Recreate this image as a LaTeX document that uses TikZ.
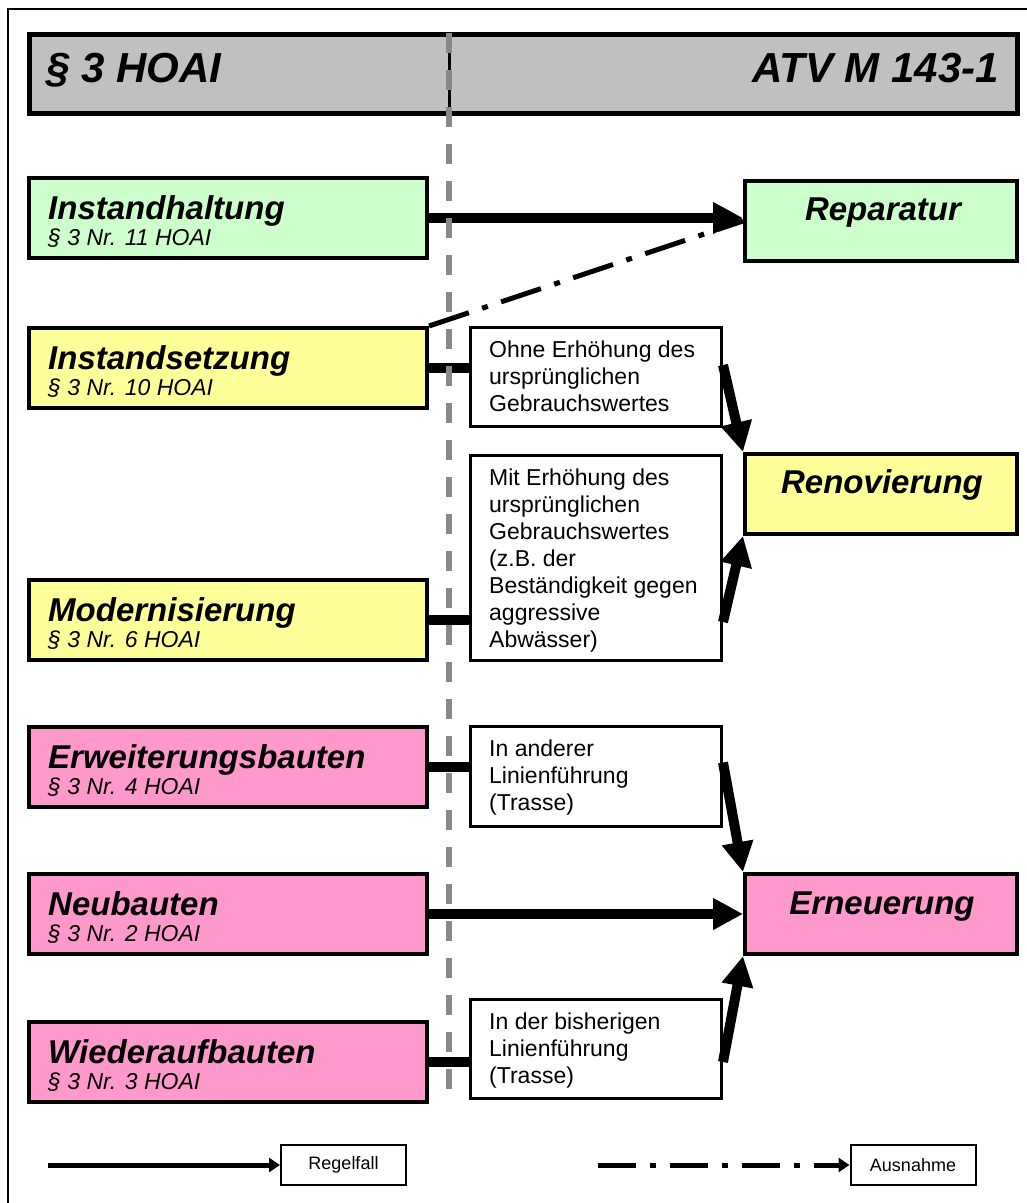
\documentclass[tikz,border=0pt]{standalone}
\usepackage{fontspec}
\setmainfont{Liberation Sans}
\usetikzlibrary{arrows.meta}
\definecolor{cgreen}{HTML}{CCFFCC}
\definecolor{cyellow}{HTML}{FFFF99}
\definecolor{cpink}{HTML}{FF99CC}
\definecolor{cbar}{HTML}{C0C0C0}
\definecolor{cvline}{HTML}{888888}
\begin{document}
\begin{tikzpicture}[x=1pt,y=-1pt,
  lbox/.style={draw=black, line width=4pt, minimum width=398pt, minimum height=80pt, inner sep=0pt},
  rbox/.style={draw=black, line width=4pt, minimum width=272pt, minimum height=80pt, inner sep=0pt},
  mbox/.style={draw=black, line width=3pt, fill=white, minimum width=251pt, inner sep=0pt},
  ttl/.style={font=\fontsize{33}{36}\selectfont\bfseries\itshape, inner sep=0pt, anchor=base west},
  sub/.style={font=\fontsize{23}{26}\selectfont\itshape, inner sep=0pt, anchor=base west},
  rttl/.style={font=\fontsize{33}{36}\selectfont\bfseries\itshape, inner sep=0pt, anchor=base},
  mtxt/.style={font=\fontsize{23}{27}\selectfont, align=left, inner sep=0pt, anchor=north west},
  conn/.style={line width=10pt, -{Triangle[length=30pt,width=30pt]}},
  bar/.style={line width=10pt},
  dashdot/.style={line width=5pt, dash pattern=on 42pt off 14pt on 6pt off 14pt},
  legbox/.style={draw=black, line width=2pt, minimum width=125pt, minimum height=40pt, inner sep=0pt, font=\fontsize{18}{20}\selectfont},
  legline/.style={line width=5pt, -{Triangle[length=11pt,width=14pt]}},
  vline/.style={draw=cvline, line width=6pt, dash pattern=on 20pt off 17pt}
]
\useasboundingbox (0,0) rectangle (1027,1203);
\clip (0,0) rectangle (1027,1203);
% outer frame
\draw[line width=2pt] (8,9) rectangle (1040,1220);

% header bar
\node[draw=black, line width=5pt, fill=cbar, minimum width=988pt, minimum height=79pt, inner sep=0pt] (head) at (523.5,74) {};
\draw[black, line width=3pt] (449,34) -- (449,114);
\node[font=\fontsize{42}{46}\selectfont\bfseries\itshape, inner sep=0pt, anchor=base west] (hl) at (46,82) {§ 3 HOAI};
\node[font=\fontsize{42}{46}\selectfont\bfseries\itshape, inner sep=0pt, anchor=base east] (hr) at (999,82) {ATV M 143-1};

% left boxes
\node[lbox, fill=cgreen]  (ih) at (228,218) {};
\node[lbox, fill=cyellow] (is) at (228,368) {};
\node[lbox, fill=cyellow] (mo) at (228,620) {};
\node[lbox, fill=cpink]   (eb) at (228,767) {};
\node[lbox, fill=cpink]   (nb) at (228,914) {};
\node[lbox, fill=cpink]   (wa) at (228,1062) {};

\node[ttl] (ih-t) at (48,219) {Instandhaltung};
\node[sub] (ih-s) at (48,245) {§ 3 Nr. 11 HOAI};
\node[ttl] (is-t) at (48,369) {Instandsetzung};
\node[sub] (is-s) at (48,395) {§ 3 Nr. 10 HOAI};
\node[ttl] (mo-t) at (48,621) {Modernisierung};
\node[sub] (mo-s) at (48,647) {§ 3 Nr. 6 HOAI};
\node[ttl] (eb-t) at (48,768) {Erweiterungsbauten};
\node[sub] (eb-s) at (48,794) {§ 3 Nr. 4 HOAI};
\node[ttl] (nb-t) at (48,915) {Neubauten};
\node[sub] (nb-s) at (48,941) {§ 3 Nr. 2 HOAI};
\node[ttl] (wa-t) at (48,1063) {Wiederaufbauten};
\node[sub] (wa-s) at (48,1089) {§ 3 Nr. 3 HOAI};

% right boxes
\node[rbox, fill=cgreen]  (rep) at (881,221) {};
\node[rbox, fill=cyellow] (ren) at (881,494) {};
\node[rbox, fill=cpink]   (ern) at (881,914) {};
\node[rttl] (rep-t) at (883,220) {Reparatur};
\node[rttl] (ren-t) at (882,493) {Renovierung};
\node[rttl] (ern-t) at (882,914) {Erneuerung};

% middle boxes
\node[mbox, minimum height=99pt]  (m1) at (596,377) {};
\node[mbox, minimum height=205pt] (m2) at (596,558) {};
\node[mbox, minimum height=100pt] (m3) at (596,776.5) {};
\node[mbox, minimum height=99pt]  (m4) at (596,1049) {};
\node[mtxt] (m1-t) at (489,340) {\rule{0pt}{17pt}Ohne Erhöhung des\\ursprünglichen\\Gebrauchswertes};
\node[mtxt] (m2-t) at (489,468) {\rule{0pt}{17pt}Mit Erhöhung des\\ursprünglichen\\Gebrauchswertes\\(z.B. der\\Beständigkeit gegen\\aggressive\\Abwässer)};
\node[mtxt] (m3-t) at (489,739) {\rule{0pt}{17pt}In anderer\\Linienführung\\(Trasse)};
\node[mtxt] (m4-t) at (489,1012) {\rule{0pt}{17pt}In der bisherigen\\Linienführung\\(Trasse)};

% connectors
\draw[dashdot] (is.north east) -- (rep.west);
\draw[conn] (ih.east) -- (ih.east -| rep.west);
\draw[bar] (is.east) -- (is.east -| m1.west);
\draw[bar] (mo.east) -- (mo.east -| m2.west);
\draw[bar] (eb.east) -- (eb.east -| m3.west);
\draw[bar] (wa.east) -- (wa.east -| m4.west);
\draw[conn] (nb.east) -- (nb.east -| ern.west);
\draw[conn] ([yshift=12pt]m1.east) -- (ren.north west);
\draw[conn] ([yshift=-64pt]m2.east) -- (ren.south west);
\draw[conn] ([yshift=14pt]m3.east) -- (ern.north west);
\draw[conn] ([yshift=-13pt]m4.east) -- (ern.south west);

% vertical dashed separator (on top of connectors)
\coordinate (vtop) at (449,33);
\coordinate (vbot) at (449,1102);
\draw[vline] (vtop) -- (vbot);

% legend
\node[legbox] (reg) at (343.5,1165) {Regelfall};
\node[legbox] (aus) at (913,1165) {Ausnahme};
\coordinate (l1) at (48,1165);
\coordinate (l2) at (598,1165);
\draw[legline] (l1) -- (reg.west);
\draw[legline, dash pattern=on 38pt off 14pt on 6pt off 14pt] (l2) -- (aus.west);
\end{tikzpicture}
\end{document}
